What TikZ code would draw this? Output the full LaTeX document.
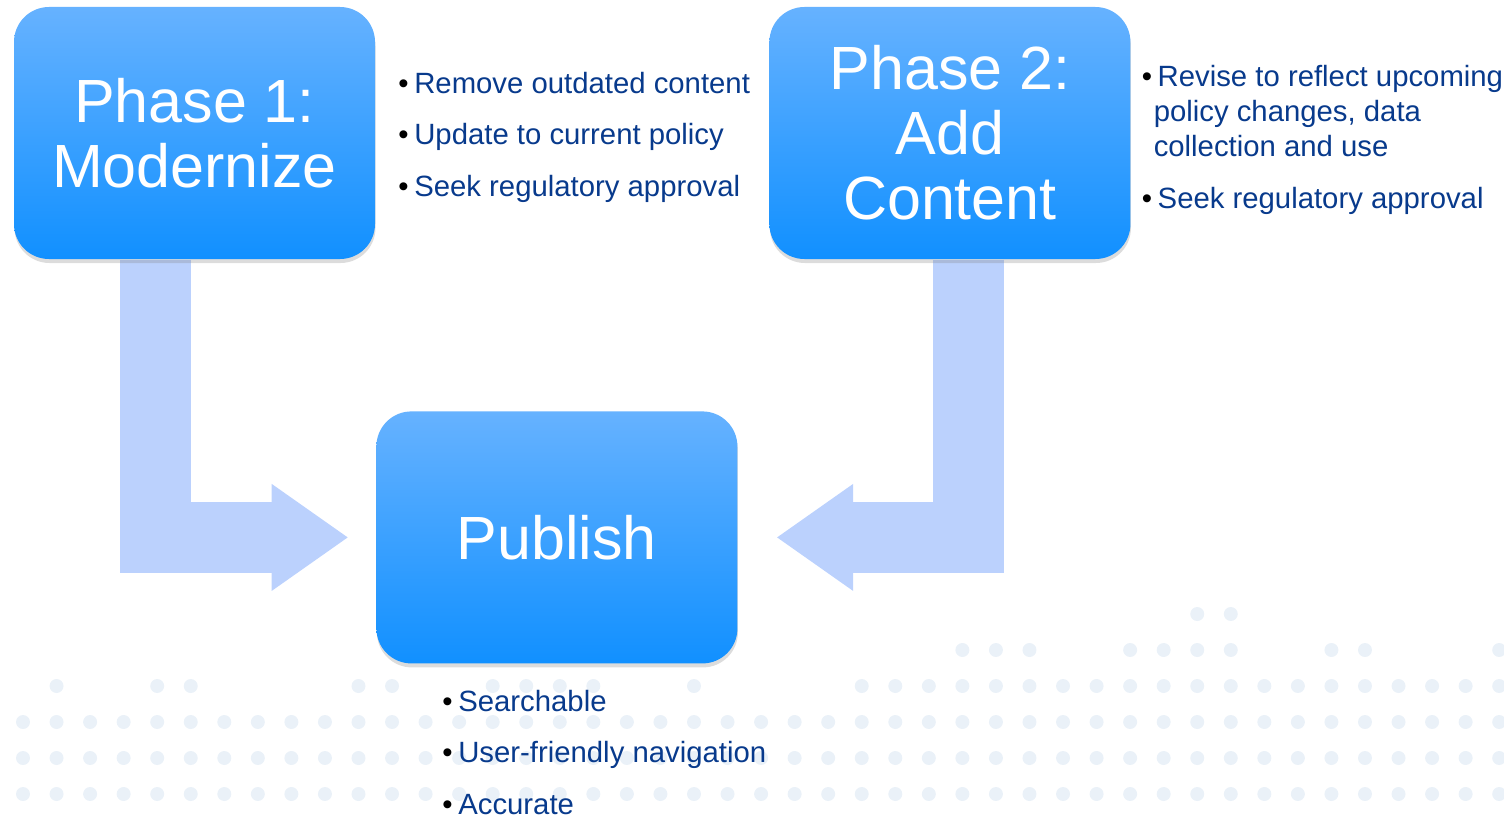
\documentclass[tikz,border=0pt]{standalone}
\usepackage{fontspec}
\setmainfont{Liberation Sans}
\usetikzlibrary{positioning,arrows.meta,shadows,backgrounds}
\definecolor{boxtop}{RGB}{102,178,255}
\definecolor{boxbot}{RGB}{17,144,255}
\definecolor{arrowc}{RGB}{187,209,253}
\definecolor{dotc}{RGB}{234,241,248}
\definecolor{navy}{RGB}{8,58,140}
\newcommand{\itm}{{\color{black}\textbullet}\hspace{1.6pt}}
\newcommand{\hang}{\hspace*{3.4pt}}

\tikzset{
  phase/.style={rectangle, rounded corners=0.35cm, minimum width=3.61cm, minimum height=2.52cm,
    top color=boxtop, bottom color=boxbot, text=white, align=center,
    font=\fontsize{17.36}{18.5}\selectfont,
    drop shadow={shadow xshift=0.005cm, shadow yshift=-0.04cm, opacity=0.28}},
  notes/.style={text=navy, align=left, inner sep=0pt, font=\fontsize{8.34}{9.96}\selectfont},
  flow/.style={draw=arrowc, line width=0.71cm,
    -{Triangle[length=0.76cm, width=1.07cm, line width=0pt]}},
  bgdot/.style={fill=dotc}
}

\begin{document}
\begin{tikzpicture}
  \useasboundingbox (0,0) rectangle (15.04,8.16);

  \node[phase] (p1) at (1.945, 6.83) {Phase 1:\\Modernize};
  \node[phase, right=3.93cm of p1] (p2) {Phase 2:\\Add\\Content};
  \node[phase, below right=1.51cm and 0cm of p1] (pub) {Publish};

  \node[notes, below right=0.65cm and 0.22cm of p1.north east] (n1)
    {\itm Remove outdated content\\[4.69pt]
     \itm Update to current policy\\[4.69pt]
     \itm Seek regulatory approval};
  \node[notes, below right=0.58cm and 0.10cm of p2.north east] (n2)
    {\itm Revise to reflect upcoming\\
     \hang policy changes, data\\
     \hang collection and use\\[4.84pt]
     \itm Seek regulatory approval};
  \node[notes, below right=0.25cm and 0.66cm of pub.south west] (n3)
    {\itm Searchable\\[4.69pt]
     \itm User-friendly navigation\\[4.69pt]
     \itm Accurate};

  \begin{scope}[on background layer]
    % dotted backdrop
    \foreach \r in {0.94,0.58,0.22}
      \foreach \k in {0,...,44}
        \fill[bgdot] (0.23+0.3355*\k, \r) circle (0.07);
    \foreach \k in {1,4,5,10,11,14,15,16,17,20,25,26,...,44}
      \fill[bgdot] (0.23+0.3355*\k, 1.30) circle (0.07);
    \foreach \k in {28,29,30,33,34,35,36,39,40,44}
      \fill[bgdot] (0.23+0.3355*\k, 1.66) circle (0.07);
    \foreach \k in {35,36}
      \fill[bgdot] (0.23+0.3355*\k, 2.02) circle (0.07);

    \draw[flow] ([xshift=-0.39cm]p1.south) |- ([xshift=-0.28cm]pub.west);
    \draw[flow] ([xshift=0.19cm]p2.south) |- ([xshift=0.39cm]pub.east);
  \end{scope}
\end{tikzpicture}
\end{document}
